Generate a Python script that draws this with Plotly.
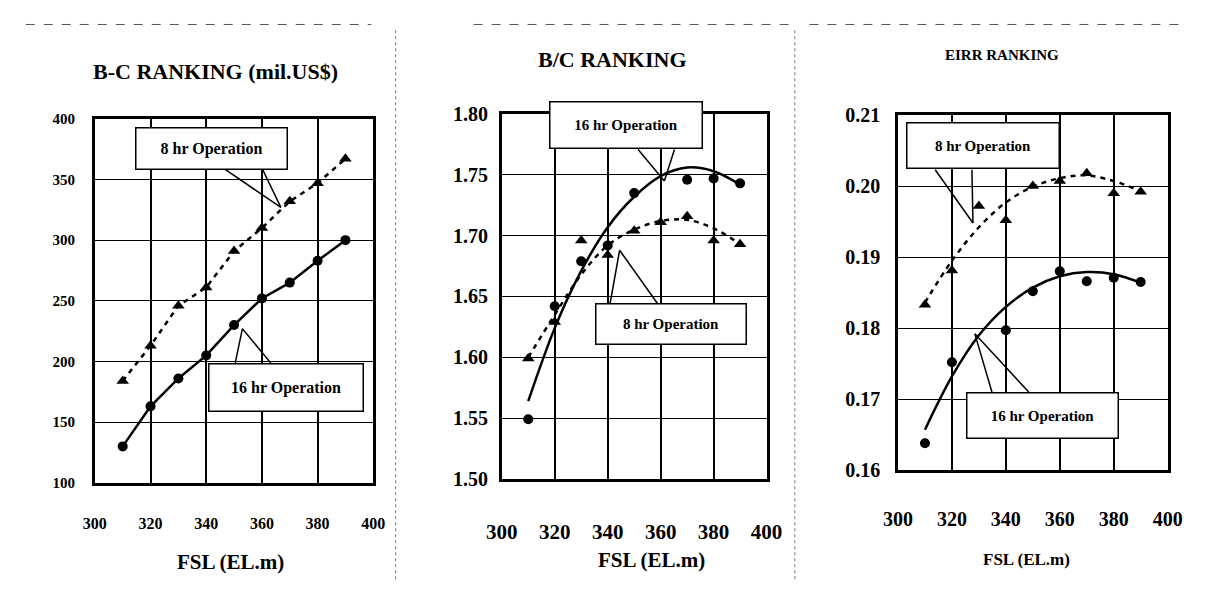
import plotly.graph_objects as go

# ---------------- data ----------------
fsl = [310, 320, 330, 340, 350, 360, 370, 380, 390]

# Chart 1: B-C ranking (mil.US$)
bc_16hr = [130, 163, 186, 205, 230, 252, 265, 283, 300]
bc_8hr = [184, 213, 246, 261, 291, 310, 332, 347, 367]

# Chart 2: B/C ranking
bcr_16hr_x = [310, 320, 330, 340, 350, 370, 380, 390]
bcr_16hr = [1.549, 1.642, 1.679, 1.692, 1.735, 1.746, 1.747, 1.743]
bcr_16hr_trend = [1.564, 1.624, 1.671, 1.707, 1.732, 1.749, 1.756, 1.753, 1.742]
bcr_8hr = [1.599, 1.629, 1.696, 1.684, 1.704, 1.711, 1.716, 1.696, 1.693]
bcr_8hr_trend = [1.600, 1.635, 1.668, 1.692, 1.705, 1.712, 1.713, 1.706, 1.693]

# Chart 3: EIRR ranking
eirr_16hr_x = [310, 320, 340, 350, 360, 370, 380, 390]
eirr_16hr = [0.1638, 0.1752, 0.1797, 0.1852, 0.1880, 0.1866, 0.1871, 0.1865]
eirr_16hr_trend = [0.1657, 0.1732, 0.1790, 0.1830, 0.1857, 0.1873, 0.1879, 0.1876, 0.1864]
eirr_8hr = [0.1833, 0.1881, 0.1972, 0.1952, 0.2000, 0.2007, 0.2018, 0.1990, 0.1992]
eirr_8hr_trend = [0.1836, 0.1895, 0.1942, 0.1977, 0.1999, 0.2011, 0.2015, 0.2007, 0.1993]

titles = ["B-C RANKING (mil.US$)", "B/C RANKING", "EIRR RANKING"]
x_title = "FSL (EL.m)"
label_16 = "16 hr Operation"
label_8 = "8 hr Operation"

# ---------------- layout config ----------------
FONT = "Liberation Serif"
W, H = 1208, 592

def px_x(p):
    return p / W

def px_y(p):
    return 1 - p / H

frames = [  # (left, right, top, bottom) in pixels
    (81, 367, 112, 490),
    (499, 771, 107, 486),
    (906, 1183, 108, 477),
]
y_ranges = [(100, 400), (1.50, 1.80), (0.16, 0.21)]
y_dticks = [50, 0.05, 0.01]
y_formats = ["d", ".2f", ".2f"]
ytick_sizes = [15, 20, 20]
xtick_sizes = [16, 21, 20]
x_standoffs = [24, 32, 29]
y_standoffs = [14, 7, 11]

fig = go.Figure()

dash8 = "5px,5px"

def add_series(k, x, y, mode, dash=None, symbol="circle", size=10, shape="linear"):
    ax = "" if k == 0 else str(k + 1)
    tr = dict(x=x, y=y, mode=mode, xaxis="x" + ax, yaxis="y" + ax,
              showlegend=False, hoverinfo="x+y")
    if "lines" in mode:
        tr["line"] = dict(color="black", width=2.5, dash=dash or "solid", shape=shape)
    if "markers" in mode:
        tr["marker"] = dict(color="black", size=size, symbol=symbol)
    fig.add_trace(go.Scatter(**tr))

# chart 1
add_series(0, fsl, bc_8hr, "lines", dash=dash8)
add_series(0, fsl, bc_8hr, "markers", symbol="triangle-up", size=11)
add_series(0, fsl, bc_16hr, "lines+markers", size=10)
# chart 2
add_series(1, fsl, bcr_8hr_trend, "lines", dash=dash8, shape="spline")
add_series(1, fsl, bcr_8hr, "markers", symbol="triangle-up", size=11)
add_series(1, fsl, bcr_16hr_trend, "lines", shape="spline")
add_series(1, bcr_16hr_x, bcr_16hr, "markers", size=10)
# chart 3
add_series(2, fsl, eirr_8hr_trend, "lines", dash=dash8, shape="spline")
add_series(2, fsl, eirr_8hr, "markers", symbol="triangle-up", size=11)
add_series(2, fsl, eirr_16hr_trend, "lines", shape="spline")
add_series(2, eirr_16hr_x, eirr_16hr, "markers", size=10)

layout = dict(
    width=W, height=H,
    margin=dict(l=0, r=0, t=0, b=0),
    paper_bgcolor="white", plot_bgcolor="white",
    font=dict(family=FONT, color="black"),
)

annotations = []
for k, (l, r, t, b) in enumerate(frames):
    ax = "" if k == 0 else str(k + 1)
    layout["xaxis" + ax] = dict(
        domain=[px_x(l), px_x(r)], anchor="y" + ax, range=[300, 400],
        dtick=20, tick0=300, showgrid=True, gridcolor="black", gridwidth=2,
        showline=True, linecolor="black", linewidth=2.5, mirror=True,
        ticks="", zeroline=False, ticklabelstandoff=x_standoffs[k],
        tickfont=dict(family=FONT, size=xtick_sizes[k], color="black", weight="bold"),
    )
    layout["yaxis" + ax] = dict(
        domain=[px_y(b), px_y(t)], anchor="x" + ax, range=list(y_ranges[k]),
        dtick=y_dticks[k], tick0=y_ranges[k][0], tickformat=y_formats[k],
        showgrid=True, gridcolor="black", gridwidth=1,
        showline=True, linecolor="black", linewidth=2.5, mirror=True,
        ticks="", zeroline=False, ticklabelstandoff=y_standoffs[k],
        tickfont=dict(family=FONT, size=ytick_sizes[k], color="black", weight="bold"),
    )

# chart titles and x-axis titles (paper coords, pixel centres)
title_pos = [(205, 63, 22), (613, 50, 22), (1013, 46, 15)]
xtitle_pos = [(220, 572, 21), (653, 570, 21), (1038, 570, 17)]
for (tx, ty, fs), txt in zip(title_pos, titles):
    annotations.append(dict(x=px_x(tx), y=px_y(ty), xref="paper", yref="paper",
                            xanchor="center", yanchor="middle",
                            text="<b>" + txt + "</b>", showarrow=False,
                            font=dict(family=FONT, size=fs)))
for tx, ty, fs in xtitle_pos:
    annotations.append(dict(x=px_x(tx), y=px_y(ty), xref="paper", yref="paper",
                            xanchor="center", yanchor="middle",
                            text="<b>" + x_title + "</b>", showarrow=False,
                            font=dict(family=FONT, size=fs)))

# callouts: (chart, text, box centre x, box centre y, box w, box h, tip, base y, base xs, font)
callouts = [
    (0, label_8, 342, 375.7, 146, 36, (366.8, 327), 359.5, (346, 360), 16),
    (0, label_16, 368.7, 178.5, 149, 42, (353, 227), 197.6, (350.3, 363.6), 16),
    (1, label_16, 346.9, 1.791, 147, 41, (361.4, 1.745), 1.772, (351, 365.4), 15),
    (1, label_8, 363.8, 1.6275, 145, 35, (344.5, 1.688), 1.643, (340.8, 359.2), 15),
    (2, label_8, 331.6, 0.20565, 147, 40, (327.8, 0.1948), 0.2025, (313.4, 327.4), 15),
    (2, label_16, 353.5, 0.1677, 146, 40, (328.5, 0.1792), 0.1708, (335, 349), 15),
]
for k, txt, cx, cy, bw, bh, tip, by, bxs, fs in callouts:
    ax = "" if k == 0 else str(k + 1)
    for bx in bxs:
        annotations.append(dict(x=tip[0], y=tip[1], xref="x" + ax, yref="y" + ax,
                                ax=bx, ay=by, axref="x" + ax, ayref="y" + ax,
                                text="", showarrow=True, arrowhead=0,
                                arrowwidth=1.5, arrowcolor="black", standoff=0))
    annotations.append(dict(x=cx, y=cy, xref="x" + ax, yref="y" + ax,
                            xanchor="center", yanchor="middle",
                            text="<b>" + txt + "</b>", showarrow=False,
                            width=bw, height=bh, borderpad=2,
                            bordercolor="black", borderwidth=1.5, bgcolor="white",
                            font=dict(family=FONT, size=fs, color="black")))

layout["annotations"] = annotations

# page decorations: dashed top rule and dotted separators
shapes = []
for x0, x1 in [(10, 365), (470, 800), (815, 1200)]:
    shapes.append(dict(type="line", xref="paper", yref="paper",
                       x0=px_x(x0), x1=px_x(x1), y0=px_y(14), y1=px_y(14),
                       line=dict(color="#555", width=1, dash="dash")))
for sx in [390, 800]:
    shapes.append(dict(type="line", xref="paper", yref="paper",
                       x0=px_x(sx), x1=px_x(sx), y0=px_y(20), y1=px_y(592),
                       line=dict(color="#777", width=1, dash="dot")))
layout["shapes"] = shapes

fig.update_layout(**layout)
fig.write_html("out.html", config={"displayModeBar": False},
               post_script="document.body.style.margin='0px';")
